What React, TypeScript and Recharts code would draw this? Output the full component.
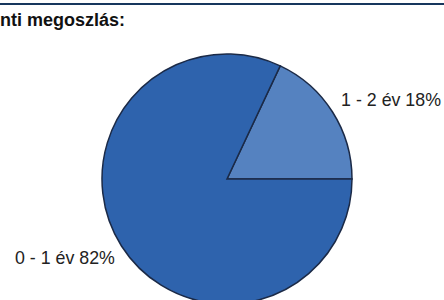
import { PieChart, Pie, Cell } from 'recharts';

const categories = ['1 - 2 év', '0 - 1 év'];
const shares = [18, 82];
const sliceColors = ['#5582c0', '#2e63ad'];

const data = categories.map((name, i) => ({ name, value: shares[i] }));

const RADIAN = Math.PI / 180;

// label sits outside the slice, anchored toward the side it is on
const renderLabel = (props: any) => {
  const { cx, cy, midAngle, outerRadius, name, value } = props;
  const r = outerRadius + 22;
  const cos = Math.cos(-midAngle * RADIAN);
  const sin = Math.sin(-midAngle * RADIAN);
  const x = cx + r * cos;
  const y = cy + r * sin;
  const right = cos >= 0;
  return (
    <text
      x={right ? x - 10 : x + 12}
      y={y}
      textAnchor={right ? 'start' : 'end'}
      dominantBaseline="central"
      fill="#222"
      fontSize={17.8}
      fontFamily="'Liberation Sans', Arial, sans-serif"
    >
      {`${name} ${value}%`}
    </text>
  );
};

export default function App() {
  return (
    <div
      style={{
        position: 'absolute',
        left: 0,
        top: 0,
        width: 444,
        height: 300,
        overflow: 'hidden',
        background: '#fff',
      }}
    >
      <div
        style={{
          position: 'absolute',
          left: 0,
          top: 3,
          width: 444,
          height: 2,
          background: '#17365d',
        }}
      />
      <div
        style={{
          position: 'absolute',
          left: 0,
          top: 10,
          fontFamily: "'Liberation Sans', Arial, sans-serif",
          fontWeight: 'bold',
          fontSize: 18,
          color: '#111',
          whiteSpace: 'nowrap',
        }}
      >
        nti megoszlás:
      </div>
      <PieChart
        width={444}
        height={300}
        margin={{ top: 0, right: 0, bottom: 0, left: 0 }}
        style={{ position: 'absolute', left: 0, top: 0 }}
      >
        <Pie
          data={data}
          dataKey="value"
          nameKey="name"
          cx={227}
          cy={179}
          outerRadius={125}
          startAngle={0}
          endAngle={360}
          label={renderLabel}
          labelLine={false}
          isAnimationActive={false}
        >
          {data.map((d, i) => (
            <Cell key={d.name} fill={sliceColors[i]} stroke="#1b2a47" strokeWidth={1.5} />
          ))}
        </Pie>
      </PieChart>
    </div>
  );
}
